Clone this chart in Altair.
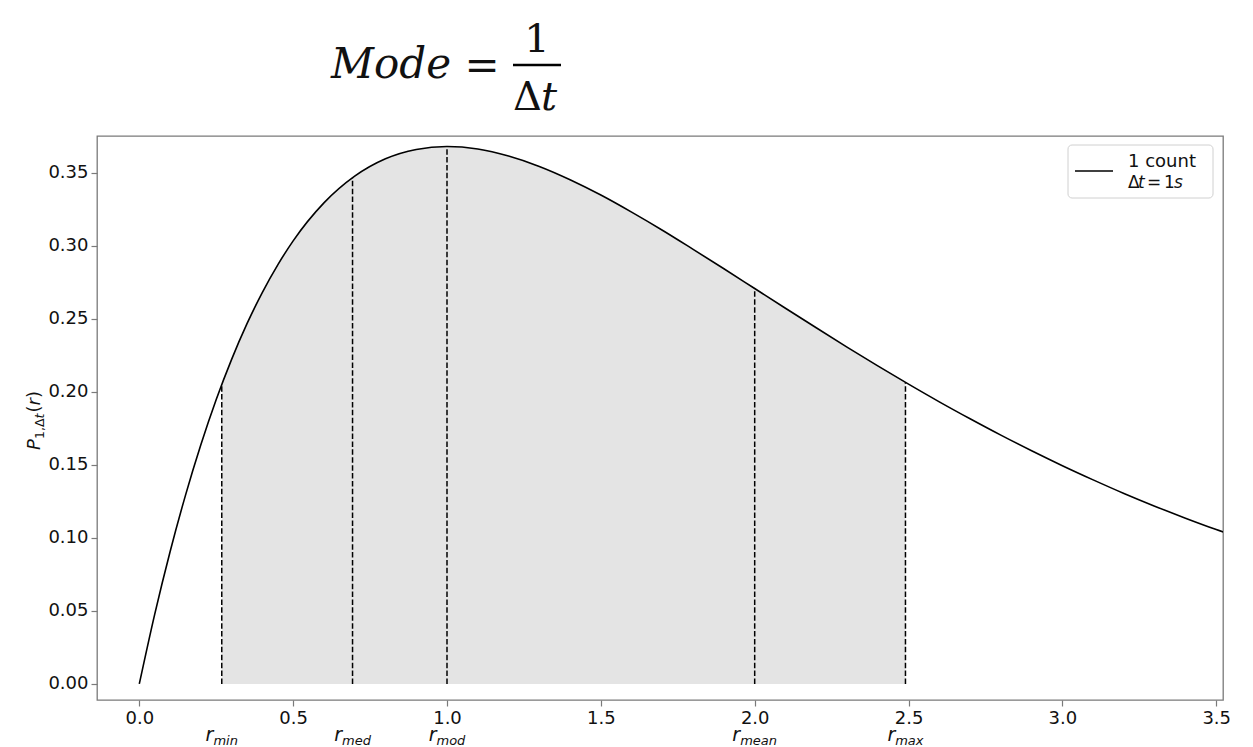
import altair as alt
import pandas as pd

# Probability of one count in a window of 1 s, as a function of the rate r
r_vals = [0.0, 0.05, 0.1, 0.15, 0.2, 0.25, 0.3, 0.35, 0.4, 0.45, 0.5, 0.6, 0.7, 0.8,
          0.9, 1.0, 1.1, 1.2, 1.3, 1.4, 1.5, 1.6, 1.7, 1.8, 1.9, 2.0, 2.1, 2.2, 2.3,
          2.4, 2.5, 2.6, 2.7, 2.8, 2.9, 3.0, 3.1, 3.2, 3.3, 3.4, 3.5, 3.6]
p_vals = [0.0, 0.0476, 0.0905, 0.1291, 0.1637, 0.1947, 0.2222, 0.2466, 0.2681, 0.2869,
          0.3033, 0.3293, 0.3476, 0.3595, 0.3659, 0.3679, 0.3662, 0.3614, 0.3543,
          0.3452, 0.3347, 0.3230, 0.3106, 0.2975, 0.2842, 0.2707, 0.2572, 0.2438,
          0.2306, 0.2177, 0.2052, 0.1931, 0.1815, 0.1703, 0.1596, 0.1494, 0.1397,
          0.1304, 0.1217, 0.1135, 0.1057, 0.0984]

# Characteristic rates marked with dashed lines
marker_names = ["min", "med", "mod", "mean", "max"]
marker_r = [0.268, 0.693, 1.0, 2.0, 2.49]
marker_p = [0.2050, 0.3466, 0.3679, 0.2707, 0.2065]

x_ticks = [0.0, 0.5, 1.0, 1.5, 2.0, 2.5, 3.0, 3.5]
y_ticks = [0.0, 0.05, 0.10, 0.15, 0.20, 0.25, 0.30, 0.35]

LEFT, TOP = 97, 136
W, H = 1126, 564
TXT = "#111111"
FONT = "DejaVu Sans"

curve = pd.DataFrame({"r": r_vals, "p": p_vals})
markers = pd.DataFrame({"r": marker_r, "p": marker_p, "base": [0.0] * len(marker_r)})

# shaded band between r_min and r_max
r_lo, r_hi = marker_r[0], marker_r[-1]
band = pd.concat([
    pd.DataFrame({"r": [r_lo], "p": [marker_p[0]]}),
    curve[(curve.r > r_lo) & (curve.r < r_hi)],
    pd.DataFrame({"r": [r_hi], "p": [marker_p[-1]]}),
]).sort_values("r")

xs = alt.Scale(domain=[-0.1375, 3.522], nice=False, zero=False)
ys = alt.Scale(domain=[-0.011, 0.3751], nice=False, zero=False)

axis_common = dict(grid=False, domain=False, tickColor="#7a7a7a", tickSize=6,
                   tickWidth=1.2, labelFont=FONT, labelFontSize=18, labelColor=TXT,
                   labelPadding=3, title=None)
x_axis = alt.Axis(values=x_ticks, format=".1f", **axis_common)
y_axis = alt.Axis(values=y_ticks, format=".2f", **axis_common)

area = alt.Chart(band).mark_area(color="#e4e4e4", interpolate="monotone").encode(
    x=alt.X("r:Q", scale=xs, axis=x_axis),
    y=alt.Y("p:Q", scale=ys, axis=y_axis),
    y2=alt.Y2(datum=0),
)

rules = alt.Chart(markers).mark_rule(color="black", strokeWidth=1.5,
                                     strokeDash=[5.5, 2.4]).encode(
    x=alt.X("r:Q", scale=xs, axis=x_axis),
    y=alt.Y("base:Q", scale=ys, axis=y_axis),
    y2="p:Q",
)

line = alt.Chart(curve).mark_line(color="black", strokeWidth=1.6,
                                  interpolate="monotone", clip=True).encode(
    x=alt.X("r:Q", scale=xs, axis=x_axis),
    y=alt.Y("p:Q", scale=ys, axis=y_axis),
)

one = pd.DataFrame({"k": [0]})


def txt(text, px, py, size, font=FONT, style="normal", align="left", angle=0):
    return alt.Chart(one).mark_text(
        text=text, align=align, baseline="alphabetic", font=font, fontSize=size,
        fontStyle=style, angle=angle, color=TXT,
    ).encode(x=alt.value(px - LEFT), y=alt.value(py - TOP))


layers = [area, rules, line]

# r_xxx labels under the axis, centred on each marker
em = {"m": 0.974, "i": 0.278, "n": 0.634, "e": 0.615, "d": 0.635, "o": 0.612,
      "a": 0.613, "x": 0.592}
R_SIZE, SUB_SIZE = 19, 13
for name, rv in zip(marker_names, marker_r):
    r_w = 0.411 * R_SIZE
    sub_w = sum(em[c] for c in name) * SUB_SIZE
    start = -(r_w + sub_w) / 2
    row = pd.DataFrame({"r": [rv]})
    layers.append(alt.Chart(row).mark_text(
        text="r", align="left", baseline="alphabetic", font=FONT, fontSize=R_SIZE,
        fontStyle="italic", color=TXT, dx=start,
    ).encode(x=alt.X("r:Q", scale=xs, axis=x_axis), y=alt.value(741 - TOP)))
    layers.append(alt.Chart(row).mark_text(
        text=name, align="left", baseline="alphabetic", font=FONT, fontSize=SUB_SIZE,
        fontStyle="italic", color=TXT, dx=start + r_w,
    ).encode(x=alt.X("r:Q", scale=xs, axis=x_axis), y=alt.value(744.5 - TOP)))

# y-axis title  P_{1,Δt}(r), written bottom to top
layers += [
    txt("P", 40, 450, 18, style="italic", angle=270),
    txt("1,Δ", 44, 439, 12.6, angle=270),
    txt("t", 44, 418.4, 12.6, style="italic", angle=270),
    txt("(", 40, 412.5, 18, angle=270),
    txt("r", 40, 405.5, 18, style="italic", angle=270),
    txt(")", 40, 398.1, 18, angle=270),
]

# Heading: Mode = 1 / Δt
SERIF = "DejaVu Serif"
layers += [
    txt("Mode", 331, 78, 42, font=SERIF, style="italic"),
    txt("=", 482, 80, 42, font=SERIF, align="center"),
    txt("1", 537, 52, 40, font=SERIF, align="center"),
    txt("Δ", 513, 110, 40, font=SERIF),
    txt("t", 541, 110, 40, font=SERIF, style="italic"),
    alt.Chart(one).mark_rule(color="black", strokeWidth=2.5).encode(
        x=alt.value(513 - LEFT), x2=alt.value(561 - LEFT), y=alt.value(65 - TOP)),
]

# Legend box
layers += [
    alt.Chart(one).mark_rect(fill="white", fillOpacity=0.85, stroke="#d0d0d0",
                             strokeWidth=1, cornerRadius=4).encode(
        x=alt.value(1068 - LEFT), x2=alt.value(1213 - LEFT),
        y=alt.value(145 - TOP), y2=alt.value(198 - TOP)),
    alt.Chart(one).mark_rule(color="black", strokeWidth=1.6).encode(
        x=alt.value(1075 - LEFT), x2=alt.value(1113 - LEFT), y=alt.value(171 - TOP)),
    txt("1 count", 1128, 167, 18),
    txt("Δ", 1128, 188, 17),
    txt("t", 1138, 188, 17, style="italic"),
    txt("=", 1154, 188, 17, align="center"),
    txt("1", 1164, 188, 17),
    txt("s", 1174, 188, 17, style="italic"),
]

chart = alt.layer(*layers).resolve_scale(x="shared", y="shared").properties(
    width=W, height=H,
    padding={"left": LEFT, "top": TOP, "right": 1253 - LEFT - W, "bottom": 747 - TOP - H},
    autosize=alt.AutoSizeParams(type="none"),
    background="white",
).configure_view(stroke="#7a7a7a", strokeWidth=1.3)

chart.save("out.html", embed_options={"renderer": "svg", "actions": False})
